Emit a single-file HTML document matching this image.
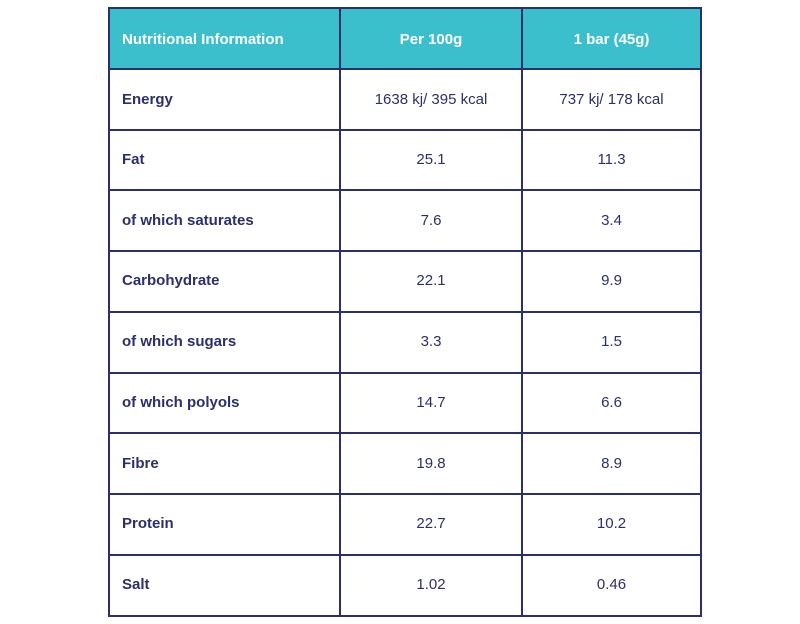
<!DOCTYPE html>
<html><head><meta charset="utf-8"><style>
body{margin:0;width:800px;height:624px;background:#fff;position:relative;font-family:"Liberation Sans",sans-serif;color:#2b2f6b;overflow:hidden}
.hd{position:absolute;left:108px;top:8px;width:594px;height:61px;background:#3cbfcc}
.h{position:absolute;left:108px;width:594px;height:2px;background:#2b2f6b}
.v{position:absolute;top:7px;width:2px;height:610px;background:#2b2f6b}
.t{position:absolute;font-size:15px;line-height:20px;white-space:nowrap}
.l{left:122px;font-weight:bold}
.c1{left:340px;width:182px;text-align:center}
.c2{left:522px;width:179px;text-align:center}
.w{color:#fff;font-weight:bold}
</style></head><body>
<div class="hd"></div>
<div class="h" style="top:7px"></div>
<div class="h" style="top:68px"></div>
<div class="h" style="top:129px"></div>
<div class="h" style="top:189px"></div>
<div class="h" style="top:250px"></div>
<div class="h" style="top:311px"></div>
<div class="h" style="top:372px"></div>
<div class="h" style="top:432px"></div>
<div class="h" style="top:493px"></div>
<div class="h" style="top:554px"></div>
<div class="h" style="top:615px"></div>
<div class="v" style="left:108px"></div>
<div class="v" style="left:339px"></div>
<div class="v" style="left:521px"></div>
<div class="v" style="left:700px"></div>
<div class="t l w" style="top:30px">Nutritional Information</div>
<div class="t c1 w" style="top:30px">Per 100g</div>
<div class="t c2 w" style="top:30px">1 bar (45g)</div>
<div class="t l" style="top:90px">Energy</div><div class="t c1" style="top:90px">1638 kj/ 395 kcal</div><div class="t c2" style="top:90px">737 kj/ 178 kcal</div>
<div class="t l" style="top:150px">Fat</div><div class="t c1" style="top:150px">25.1</div><div class="t c2" style="top:150px">11.3</div>
<div class="t l" style="top:211px">of which saturates</div><div class="t c1" style="top:211px">7.6</div><div class="t c2" style="top:211px">3.4</div>
<div class="t l" style="top:271px">Carbohydrate</div><div class="t c1" style="top:271px">22.1</div><div class="t c2" style="top:271px">9.9</div>
<div class="t l" style="top:332px">of which sugars</div><div class="t c1" style="top:332px">3.3</div><div class="t c2" style="top:332px">1.5</div>
<div class="t l" style="top:393px">of which polyols</div><div class="t c1" style="top:393px">14.7</div><div class="t c2" style="top:393px">6.6</div>
<div class="t l" style="top:454px">Fibre</div><div class="t c1" style="top:454px">19.8</div><div class="t c2" style="top:454px">8.9</div>
<div class="t l" style="top:514px">Protein</div><div class="t c1" style="top:514px">22.7</div><div class="t c2" style="top:514px">10.2</div>
<div class="t l" style="top:575px">Salt</div><div class="t c1" style="top:575px">1.02</div><div class="t c2" style="top:575px">0.46</div>
</body></html>
